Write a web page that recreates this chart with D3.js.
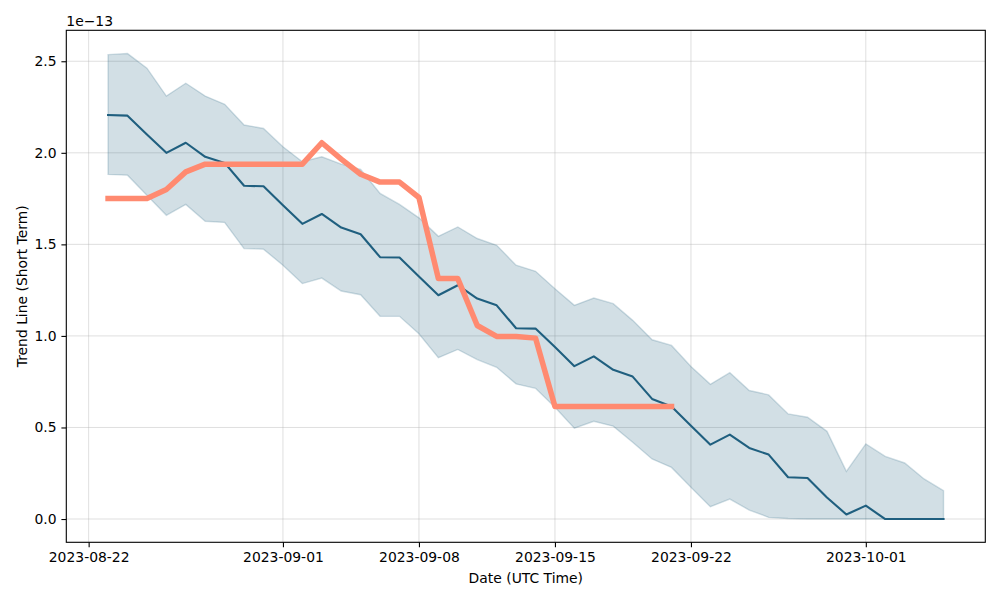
<!DOCTYPE html>
<html lang="en">
    <head>
        <meta charset="UTF-8">
        <title>Trend Line (Short Term)</title>
        <script src="https://d3js.org/d3.v7.min.js"></script>
        <style>
            body { margin: 0; background: #fff; }
            text { font-family: "DejaVu Sans", sans-serif; font-size: 13.9px; fill: #000; }
        </style>
    </head>

    <body>
        <script>
            // values in units of 1e-13
            const dates = [
                "2023-08-23", "2023-08-24", "2023-08-25", "2023-08-26", "2023-08-27", "2023-08-28",
                "2023-08-29", "2023-08-30", "2023-08-31", "2023-09-01", "2023-09-02", "2023-09-03",
                "2023-09-04", "2023-09-05", "2023-09-06", "2023-09-07", "2023-09-08", "2023-09-09",
                "2023-09-10", "2023-09-11", "2023-09-12", "2023-09-13", "2023-09-14", "2023-09-15",
                "2023-09-16", "2023-09-17", "2023-09-18", "2023-09-19", "2023-09-20", "2023-09-21",
                "2023-09-22", "2023-09-23", "2023-09-24", "2023-09-25", "2023-09-26", "2023-09-27",
                "2023-09-28", "2023-09-29", "2023-09-30", "2023-10-01", "2023-10-02", "2023-10-03",
                "2023-10-04", "2023-10-05"
            ];

            const trend = [
                2.206, 2.203, 2.100, 2.000, 2.055, 1.978, 1.945, 1.820, 1.817, 1.714, 1.612, 1.666,
                1.592, 1.555, 1.430, 1.428, 1.325, 1.222, 1.277, 1.204, 1.167, 1.042, 1.040, 0.939,
                0.835, 0.888, 0.815, 0.778, 0.656, 0.614, 0.510, 0.406, 0.461, 0.388, 0.352, 0.228,
                0.224, 0.118, 0.025, 0.073, 0.000, 0.000, 0.000, 0.000
            ];

            const upper = [
                2.536, 2.542, 2.462, 2.310, 2.380, 2.310, 2.265, 2.152, 2.133, 2.033, 1.951, 1.978,
                1.938, 1.909, 1.778, 1.718, 1.645, 1.544, 1.595, 1.532, 1.495, 1.386, 1.353, 1.258,
                1.167, 1.207, 1.176, 1.085, 0.979, 0.948, 0.833, 0.736, 0.799, 0.702, 0.678, 0.574,
                0.556, 0.479, 0.260, 0.410, 0.342, 0.306, 0.219, 0.155
            ];

            const lower = [
                1.882, 1.878, 1.768, 1.659, 1.718, 1.626, 1.620, 1.477, 1.474, 1.386, 1.286, 1.316,
                1.245, 1.225, 1.107, 1.107, 1.012, 0.881, 0.926, 0.871, 0.829, 0.738, 0.714, 0.610,
                0.496, 0.534, 0.507, 0.419, 0.328, 0.282, 0.173, 0.067, 0.109, 0.049, 0.009, 0.003,
                0.000, 0.000, 0.000, 0.000, 0.000, 0.000, 0.000, 0.000
            ];

            // the short term line only covers the first 30 days
            const shortTerm = [
                1.750, 1.750, 1.750, 1.800, 1.896, 1.938, 1.938, 1.938, 1.938, 1.938, 1.938, 2.055,
                1.966, 1.883, 1.840, 1.840, 1.756, 1.313, 1.313, 1.057, 0.997, 0.997, 0.988, 0.614,
                0.614, 0.614, 0.614, 0.614, 0.614, 0.614
            ];

            const xTicks = ["2023-08-22", "2023-09-01", "2023-09-08", "2023-09-15", "2023-09-22", "2023-10-01"];
            const yTicks = [0, 0.5, 1.0, 1.5, 2.0, 2.5];

            const width = 1000, height = 600;
            const margin = {top: 30.3, right: 14.7, bottom: 57.7, left: 66.3};
            const inner = {
                width: width - margin.left - margin.right,
                height: height - margin.top - margin.bottom
            };

            const parse = d3.utcParse("%Y-%m-%d");
            const data = dates.map((d, i) => ({
                date: parse(d), trend: trend[i], upper: upper[i], lower: lower[i],
                short: i < shortTerm.length ? shortTerm[i] : null
            }));

            // matplotlib style 5% padding on both axes
            const [x0, x1] = d3.extent(data, d => d.date);
            const xPad = (x1 - x0) * 0.05;
            const x = d3.scaleUtc()
                .domain([new Date(+x0 - xPad), new Date(+x1 + xPad)])
                .range([0, inner.width]);

            const yMin = d3.min(lower), yMax = d3.max(upper);
            const yPad = (yMax - yMin) * 0.05;
            const y = d3.scaleLinear()
                .domain([yMin - yPad, yMax + yPad])
                .range([inner.height, 0]);

            const svg = d3.select("body").append("svg")
                .attr("width", width)
                .attr("height", height);

            const g = svg.append("g")
                .attr("transform", `translate(${margin.left},${margin.top})`);

            // grid
            g.append("g").selectAll("line")
                .data(xTicks)
                .join("line")
                .attr("x1", d => x(parse(d))).attr("x2", d => x(parse(d)))
                .attr("y1", 0).attr("y2", inner.height)
                .attr("stroke", "#b0b0b0").attr("stroke-opacity", 0.4).attr("stroke-width", 1);

            g.append("g").selectAll("line")
                .data(yTicks)
                .join("line")
                .attr("x1", 0).attr("x2", inner.width)
                .attr("y1", d => y(d)).attr("y2", d => y(d))
                .attr("stroke", "#b0b0b0").attr("stroke-opacity", 0.4).attr("stroke-width", 1);

            // band
            const area = d3.area()
                .x(d => x(d.date))
                .y0(d => y(d.lower))
                .y1(d => y(d.upper));

            g.append("path")
                .datum(data)
                .attr("d", area)
                .attr("fill", "#1f5f7f").attr("fill-opacity", 0.2)
                .attr("stroke", "#1f5f7f").attr("stroke-opacity", 0.2).attr("stroke-width", 1.4);

            // trend line
            const trendLine = d3.line()
                .x(d => x(d.date))
                .y(d => y(d.trend));

            g.append("path")
                .datum(data)
                .attr("d", trendLine)
                .attr("fill", "none")
                .attr("stroke", "#1f5f7f").attr("stroke-width", 2.1)
                .attr("stroke-linecap", "square").attr("stroke-linejoin", "round");

            // short term line
            const shortLine = d3.line()
                .defined(d => d.short !== null)
                .x(d => x(d.date))
                .y(d => y(d.short));

            g.append("path")
                .datum(data)
                .attr("d", shortLine)
                .attr("fill", "none")
                .attr("stroke", "#ff8a70").attr("stroke-width", 5.5)
                .attr("stroke-linecap", "square").attr("stroke-linejoin", "round");

            // axes
            const xAxis = d3.axisBottom(x)
                .tickValues(xTicks.map(parse))
                .tickFormat(d3.utcFormat("%Y-%m-%d"))
                .tickSize(4.9).tickPadding(4.9);

            const yAxis = d3.axisLeft(y)
                .tickValues(yTicks)
                .tickFormat(d3.format(".1f"))
                .tickSize(4.9).tickPadding(4.9);

            const gx = g.append("g")
                .attr("transform", `translate(0,${inner.height})`)
                .call(xAxis);

            const gy = g.append("g").call(yAxis);

            [gx, gy].forEach(a => {
                a.select(".domain").remove();
                a.selectAll("line").attr("stroke", "#000").attr("stroke-width", 1.1);
                a.selectAll("text")
                    .attr("font-family", "DejaVu Sans, sans-serif")
                    .attr("font-size", 13.9)
                    .attr("fill", "#000");
            });

            // frame
            g.append("rect")
                .attr("width", inner.width).attr("height", inner.height)
                .attr("fill", "none").attr("stroke", "#000").attr("stroke-width", 1.1);

            // labels
            svg.append("text")
                .attr("x", margin.left + inner.width / 2)
                .attr("y", 583)
                .attr("text-anchor", "middle")
                .text("Date (UTC Time)");

            svg.append("text")
                .attr("transform", `translate(27,${margin.top + inner.height / 2}) rotate(-90)`)
                .attr("text-anchor", "middle")
                .text("Trend Line (Short Term)");

            svg.append("text")
                .attr("x", margin.left)
                .attr("y", 26)
                .text("1e\u221213");
        </script>
    </body>
</html>
